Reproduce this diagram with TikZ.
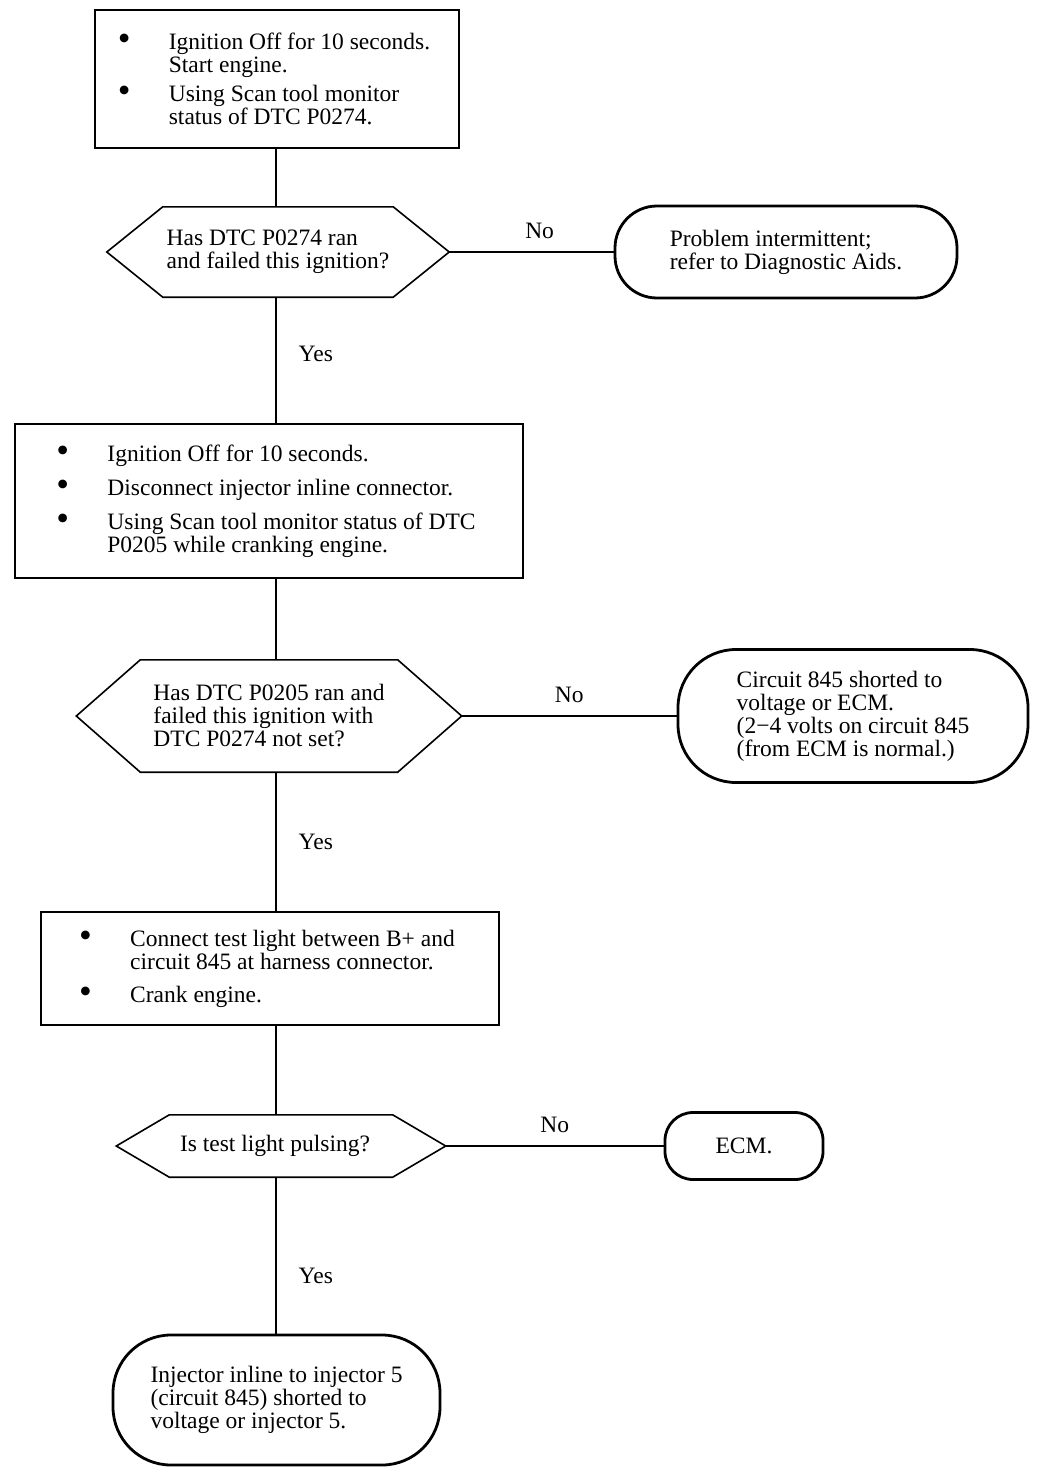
\documentclass[tikz,border=0pt]{standalone}
\usepackage{fontspec}
\setmainfont{Liberation Serif}
\usepackage{graphicx}
\usetikzlibrary{positioning}
\newcommand{\bul}{\makebox[45pt][l]{\hspace*{-6pt}\raisebox{-1pt}{\scalebox{1.55}{\textbullet}}}}
\newcommand{\ind}{\hspace*{45pt}}

\begin{document}
\begin{tikzpicture}[x=1pt, y=-1pt, line join=miter,
    every node/.style = {font=\fontsize{23.5}{23}\selectfont, inner sep=0pt},
    stepbox/.style = {draw, line width=1.6pt, align=left},
    question/.style = {align=left},
    hexline/.style = {line width=1.6pt},
    endbox/.style = {draw, line width=2.8pt, align=left},
    link/.style = {line width=1.4pt},
    no/.style = {above=13pt},
    yes/.style = {right=22pt}]

    \useasboundingbox (0,0) rectangle (1056,1480);
    \fill[white] (0,0) rectangle (1056,1480);

    % Nodes
    \node[stepbox, minimum width=364pt, minimum height=138pt] (b1) at (277,79)
        {\bul Ignition Off for 10 seconds.\\ \ind Start engine.\\[6pt]
         \bul Using Scan tool monitor\\ \ind status of DTC P0274.};
    \node[question, minimum width=230pt, minimum height=90pt] (d1) at (278,252)
        {Has DTC P0274 ran\\and failed this ignition?};
    \node[endbox, rounded corners=42pt, minimum width=342pt, minimum height=92pt] (t1) at (786,252)
        {Problem intermittent;\\refer to Diagnostic Aids.};

    \node[stepbox, minimum width=508pt, minimum height=154pt] (b2) at (269,501)
        {\bul Ignition Off for 10 seconds.\\[11pt]
         \bul Disconnect injector inline connector.\\[11pt]
         \bul Using Scan tool monitor status of DTC\\ \ind P0205 while cranking engine.};
    \node[question, minimum width=257pt, minimum height=112pt] (d2) at (269,716)
        {Has DTC P0205 ran and\\failed this ignition with\\DTC P0274 not set?};
    \node[endbox, rounded corners=58pt, minimum width=350pt, minimum height=133pt] (t2) at (853,716)
        {Circuit 845 shorted to\\voltage or ECM.\\(2−4 volts on circuit 845\\(from ECM is normal.)};

    \node[stepbox, minimum width=458pt, minimum height=113pt] (b3) at (270,968.5)
        {\bul Connect test light between B+ and\\ \ind circuit 845 at harness connector.\\[10pt]
         \bul Crank engine.};
    \node[question, minimum width=223pt, minimum height=62pt] (d3) at (281,1146)
        {\hspace*{-12pt}Is test light pulsing?};
    \node[endbox, rounded corners=28pt, minimum width=158pt, minimum height=67pt] (t3) at (744,1146)
        {ECM.};

    \node[endbox, rounded corners=58pt, minimum width=327pt, minimum height=130pt] (t4) at (276.5,1400)
        {Injector inline to injector 5\\(circuit 845) shorted to\\voltage or injector 5.};

    % Decision outlines
    \foreach \q/\s in {d1/56, d2/64, d3/53} {
        \draw[hexline] (\q.north west) -- (\q.north east) -- ([xshift=\s pt]\q.east)
            -- (\q.south east) -- (\q.south west) -- ([xshift=-\s pt]\q.west) -- cycle;
        \coordinate (\q-tip) at ([xshift=\s pt]\q.east);
    }

    % Edges
    \coordinate (spine) at (276,0);
    \draw[link] (b1.south -| spine) -- (d1.north -| spine);
    \draw[link] (d1-tip) -- node[pos=0.55, no] {No} (t1.west);
    \draw[link] (d1.south -| spine) -- node[pos=0.45, yes] {Yes} (b2.north -| spine);
    \draw[link] (b2.south -| spine) -- (d2.north -| spine);
    \draw[link] (d2-tip) -- node[no] {No} (t2.west);
    \draw[link] (d2.south -| spine) -- node[yes] {Yes} (b3.north -| spine);
    \draw[link] (b3.south -| spine) -- (d3.north -| spine);
    \draw[link] (d3-tip) -- node[no] {No} (t3.west);
    \draw[link] (d3.south -| spine) -- node[pos=0.63, yes] {Yes} (t4.north -| spine);

\end{tikzpicture}
\end{document}
